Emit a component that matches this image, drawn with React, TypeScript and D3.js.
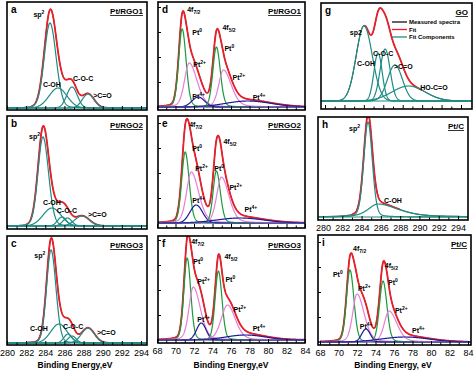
import React, { useEffect, useRef } from 'react';
import * as d3 from 'd3';

// peak = [centre eV, height a.u., hwhm low-BE side, hwhm high-BE side, lorentz fraction]
type Peak = [number, number, number, number, number];

const carbonTicks = [280, 282, 284, 286, 288, 290, 292, 294];
const platinumTicks = [68, 70, 72, 74, 76, 78, 80, 82, 84];

// C 1s: sp2, C-OH, C-O-C, >C=O
const peaksA: Peak[] = [
  [284.49, 85, 0.7, 0.75, 0.1],
  [285.33, 20, 1.1, 1.1, 0],
  [286.79, 21, 0.65, 0.65, 0],
  [288.46, 14, 0.7, 0.75, 0],
];
const peaksB: Peak[] = [
  [283.76, 89, 0.62, 0.68, 0.1],
  [284.7, 18, 1.1, 1.1, 0],
  [285.75, 9, 0.55, 0.55, 0],
  [286.3, 8, 0.55, 0.55, 0],
  [287.84, 10, 0.9, 0.9, 0],
];
const peaksC: Peak[] = [
  [284.6, 93, 0.55, 0.6, 0.1],
  [285.43, 19, 1.0, 1.0, 0],
  [286.37, 9, 0.5, 0.5, 0],
  [286.8, 7, 0.5, 0.5, 0],
  [288.46, 15, 0.8, 0.8, 0],
];
// GO: sp2, C-OH, C-O-C, >C=O, HO-C=O
const peaksG: Peak[] = [
  [284.02, 75, 0.95, 1.0, 0],
  [285.46, 48, 0.5, 0.5, 0],
  [286.19, 52, 0.6, 0.6, 0],
  [287.2, 36, 0.9, 0.9, 0],
  [288.6, 15, 2.0, 2.0, 0],
];
// Pt/C C 1s: sp2, C-OH
const peaksH: Peak[] = [
  [284.67, 95, 0.52, 0.52, 0.15],
  [285.7, 13, 1.2, 2.5, 0.5],
];

// Pt 4f: Pt0, Pt2+, Pt4+ (4f7/2) then Pt0, Pt2+, Pt4+ (4f5/2)
const peaksD: Peak[] = [
  [70.72, 78, 0.45, 0.5, 0.15],
  [71.48, 44, 0.6, 1.0, 0.25],
  [72.46, 10, 0.8, 0.8, 0],
  [74.42, 60, 0.45, 0.5, 0.15],
  [75.18, 37, 0.6, 1.0, 0.25],
  [77.8, 6, 2.8, 3.0, 0],
];
const peaksE: Peak[] = [
  [71.05, 71, 0.45, 0.5, 0.15],
  [71.7, 51, 0.6, 0.95, 0.25],
  [72.24, 18, 0.8, 0.8, 0],
  [74.42, 52, 0.42, 0.5, 0.15],
  [74.96, 46, 0.6, 0.95, 0.25],
  [77.0, 5, 3, 3, 0],
];
const peaksF: Peak[] = [
  [71.26, 82, 0.42, 0.45, 0.15],
  [71.92, 53, 0.55, 0.9, 0.25],
  [72.79, 17, 0.6, 0.6, 0],
  [74.64, 69, 0.42, 0.45, 0.15],
  [75.62, 35, 0.8, 1.0, 0.25],
  [77.58, 5, 2.5, 2.5, 0],
];
const peaksI: Peak[] = [
  [71.24, 72, 0.45, 0.5, 0.15],
  [72.0, 48, 0.55, 0.9, 0.25],
  [72.97, 13, 0.55, 0.55, 0],
  [74.81, 61, 0.45, 0.5, 0.15],
  [75.46, 31, 0.6, 1.0, 0.25],
  [77.19, 5, 3, 3, 0],
];

const RED = '#e8202a';
const TEAL = '#1f8c84';
const PT_COLORS = ['#1a9a3c', '#e67fd6', '#1b1b98', '#1a9a3c', '#e67fd6', '#1b1b98'];
const PT_BASE = '#3a3a9c';
const FONT = '"Liberation Sans", Arial, sans-serif';

type Label = { t: string; e: number; v: number; sup?: string; sub?: string; end?: boolean };

const ptLabels = (p: number[][]): Label[] => [
  { t: '4f', sub: '7/2', e: p[0][0], v: p[0][1] },
  { t: 'Pt', sup: '0', e: p[1][0], v: p[1][1] },
  { t: 'Pt', sup: '2+', e: p[2][0], v: p[2][1] },
  { t: 'Pt', sup: '4+', e: p[3][0], v: p[3][1] },
  { t: '4f', sub: '5/2', e: p[4][0], v: p[4][1] },
  { t: 'Pt', sup: '0', e: p[5][0], v: p[5][1] },
  { t: 'Pt', sup: '2+', e: p[6][0], v: p[6][1] },
  { t: 'Pt', sup: '4+', e: p[7][0], v: p[7][1] },
];

const panels = [
  {
    key: 'a', title: 'Pt/RGO1', box: [7, 2, 147, 110], base: 108, dom: [280, 294], pix: [7, 141],
    peaks: peaksA, kind: 'C', fit: [282.5, 291.5], ticks: false,
    labels: [
      { t: 'sp', sup: '2', e: 283.9, v: 91, end: true },
      { t: 'C-OH', e: 283.76, v: 21 },
      { t: 'C-O-C', e: 286.9, v: 27 },
      { t: '>C=O', e: 289.0, v: 10 },
    ] as Label[],
  },
  {
    key: 'b', title: 'Pt/RGO2', box: [7, 116, 147, 229], base: 226, dom: [280, 294], pix: [7, 141],
    peaks: peaksB, kind: 'C', fit: [282, 291], ticks: false,
    labels: [
      { t: 'sp', sup: '2', e: 283.45, v: 87, end: true },
      { t: 'C-OH', e: 283.76, v: 21 },
      { t: 'C-O-C', e: 285.2, v: 13 },
      { t: '>C=O', e: 288.46, v: 9 },
    ] as Label[],
  },
  {
    key: 'c', title: 'Pt/RGO3', box: [7, 236, 147, 345], base: 343, dom: [280, 294], pix: [7, 141],
    peaks: peaksC, kind: 'C', fit: [282, 291], ticks: true,
    labels: [
      { t: 'sp', sup: '2', e: 284.0, v: 85, end: true },
      { t: 'C-OH', e: 282.4, v: 12 },
      { t: 'C-O-C', e: 285.85, v: 14 },
      { t: '>C=O', e: 289.4, v: 8 },
    ] as Label[],
  },
  {
    key: 'd', title: 'Pt/RGO1', box: [158, 2, 305, 110], base: 107, dom: [68, 84], pix: [157, 305],
    peaks: peaksD, kind: 'Pt', fit: [68, 84], ticks: false,
    labels: ptLabels([[71.26, 95], [71.81, 72], [71.92, 40], [71.81, 8], [75.07, 77], [75.29, 56], [76.16, 27], [78.34, 7]]),
  },
  {
    key: 'e', title: 'Pt/RGO2', box: [158, 116, 305, 228], base: 223, dom: [68, 84], pix: [157, 305],
    peaks: peaksE, kind: 'Pt', fit: [68, 84], ticks: false,
    labels: ptLabels([[71.48, 96], [71.81, 72], [72.13, 52], [71.81, 20], [75.18, 79], [74.2, 52], [75.83, 33], [77.47, 11]]),
  },
  {
    key: 'f', title: 'Pt/RGO3', box: [158, 236, 305, 343], base: 340, dom: [68, 84], pix: [157, 305],
    peaks: peaksF, kind: 'Pt', fit: [68, 84], ticks: true,
    labels: ptLabels([[71.7, 96], [71.92, 76], [72.35, 56], [72.35, 18], [75.29, 81], [75.4, 58], [76.27, 28], [78.34, 9]]),
  },
  {
    key: 'g', title: 'GO', box: [321, 3, 472, 109], base: 101, dom: [280, 294], pix: [325, 461],
    peaks: peaksG, kind: 'C', fit: [284.1, 290], ticks: false,
    labels: [
      { t: 'sp2', e: 283.8, v: 66, end: true },
      { t: 'C-OH', e: 283.3, v: 35 },
      { t: 'C-O-C', e: 284.95, v: 45 },
      { t: '>C=O', e: 287.1, v: 32 },
      { t: 'HO-C=O', e: 289.8, v: 11 },
    ] as Label[],
  },
  {
    key: 'h', title: 'Pt/C', box: [318, 117, 468, 220], base: 217, dom: [280, 294], pix: [323, 458],
    peaks: peaksH, kind: 'C', fit: [283, 288], ticks: true,
    labels: [
      { t: 'sp', sup: '2', e: 283.84, v: 86, end: true },
      { t: 'C-OH', e: 286.33, v: 14 },
    ] as Label[],
  },
  {
    key: 'i', title: 'Pt/C', box: [318, 235, 471, 345], base: 342, dom: [68, 84], pix: [320, 468],
    peaks: peaksI, kind: 'Pt', fit: [68, 84], ticks: true,
    labels: ptLabels([[71.57, 91], [69.4, 65], [72.1, 51], [72.3, 13], [75.0, 74], [75.35, 57], [76.1, 29], [77.95, 9]]),
  },
];

const shape = (pk: Peak, e: number) => {
  const [c, h, wl, wr, eta] = pk;
  const d = (e - c) / (e < c ? wl : wr);
  return h * ((1 - eta) * Math.exp(-Math.LN2 * d * d) + eta / (1 + d * d));
};

const Chart = () => {
  const ref = useRef<SVGSVGElement>(null);

  useEffect(() => {
    const svg = d3.select(ref.current);
    svg.selectAll('*').remove();
    svg.style('font-family', FONT);

    panels.forEach((p) => {
      const [x0, y0, x1, y1] = p.box;
      const x = d3.scaleLinear().domain(p.dom).range(p.pix);
      const y = d3.scaleLinear().domain([0, 100]).range([p.base, p.base - 100]);
      const g = svg.append('g');

      g.append('clipPath').attr('id', 'clip-' + p.key)
        .append('rect').attr('x', x0).attr('y', y0).attr('width', x1 - x0).attr('height', y1 - y0);
      const plot = g.append('g').attr('clip-path', `url(#clip-${p.key})`);

      const grid = d3.range(x.invert(x0), x.invert(x1), 0.02);
      const total = (e: number) => d3.sum(p.peaks, (pk) => shape(pk, e));
      const line = d3.line<number>().x((e) => x(e)).y((e) => y(total(e)));

      plot.append('path').attr('d', line(grid)).attr('fill', 'none').attr('stroke', '#111').attr('stroke-width', 1);
      plot.append('path')
        .attr('d', line(grid.filter((e) => e >= p.fit[0] && e <= p.fit[1])))
        .attr('fill', 'none').attr('stroke', RED).attr('stroke-width', 1.8);

      p.peaks.forEach((pk, i) => {
        const col = p.kind === 'C' ? TEAL : PT_COLORS[i];
        const comp = d3.line<number>().x((e) => x(e)).y((e) => y(shape(pk, e)));
        plot.append('path').attr('d', comp(grid)).attr('fill', 'none').attr('stroke', col).attr('stroke-width', 1.2);
      });

      plot.append('line')
        .attr('x1', x0).attr('x2', x1).attr('y1', y(0)).attr('y2', y(0))
        .attr('stroke', p.kind === 'C' ? TEAL : PT_BASE).attr('stroke-width', 1.2);

      // bottom ticks, inward
      const labelled = p.kind === 'C' ? carbonTicks : platinumTicks;
      const axis = d3.axisBottom(x)
        .tickValues(d3.range(p.dom[0], p.dom[1] + 1, 1))
        .tickSize(-3)
        .tickPadding(5)
        .tickFormat((v) => (p.ticks && labelled.includes(+v) ? String(v) : ''));
      const ax = g.append('g').attr('transform', `translate(0,${y1})`).call(axis);
      ax.select('.domain').remove();
      ax.selectAll('.tick line')
        .attr('y2', (v: any) => (labelled.includes(+v) ? -4 : -2.5))
        .attr('stroke-width', 1);
      ax.selectAll('.tick text').attr('font-size', 9).attr('font-family', FONT).attr('fill', '#000');

      if (p.kind === 'Pt') {
        const left = d3.axisLeft(y).tickValues([25, 50, 75, 100]).tickSize(-3).tickFormat(() => '');
        const la = g.append('g').attr('transform', `translate(${x0},0)`).call(left);
        la.select('.domain').remove();
      }

      g.append('rect')
        .attr('x', x0).attr('y', y0).attr('width', x1 - x0).attr('height', y1 - y0)
        .attr('fill', 'none').attr('stroke', '#000').attr('stroke-width', 1.6);

      g.append('text').attr('x', x0 + 4).attr('y', y0 + 11)
        .attr('font-size', 10).attr('font-weight', 'bold').text(p.key);
      g.append('text').attr('x', x1 - 4).attr('y', y0 + 12)
        .attr('font-size', 8).attr('font-weight', 'bold').attr('text-anchor', 'end')
        .attr('text-decoration', 'underline').text(p.title);

      p.labels.forEach((l) => {
        const t = g.append('text')
          .attr('x', x(l.e)).attr('y', y(l.v))
          .attr('font-size', 7).attr('font-weight', 'bold')
          .attr('text-anchor', l.end ? 'end' : 'start');
        t.append('tspan').text(l.t);
        if (l.sup) t.append('tspan').attr('font-size', 5).attr('dy', -3.5).text(l.sup);
        if (l.sub) t.append('tspan').attr('font-size', 5).attr('dy', 2).text(l.sub);
      });

      if (p.key === 'g') {
        const legend = [['Measured spectra', '#111'], ['Fit', RED], ['Fit Components', TEAL]];
        legend.forEach(([name, col], i) => {
          const ly = y0 + 19 + i * 7.5;
          g.append('line').attr('x1', x1 - 80).attr('x2', x1 - 65).attr('y1', ly).attr('y2', ly)
            .attr('stroke', col).attr('stroke-width', 1.3);
          g.append('text').attr('x', x1 - 63).attr('y', ly + 2).attr('font-size', 6).attr('font-weight', 'bold').text(name);
        });
      }
    });

    const xl = [[75, 'Binding Energy,eV'], [231, 'Binding Energy,eV'], [393, 'Binding Energy, eV']];
    xl.forEach(([cx, s]) => {
      svg.append('text').attr('x', cx).attr('y', 368).attr('text-anchor', 'middle')
        .attr('font-size', 8.5).attr('font-weight', 'bold').text(s as string);
    });
  }, []);

  return <svg ref={ref} width={474} height={372} style={{ position: 'absolute', left: 0, top: 0, background: '#fff' }} />;
};

export default function App() {
  return <Chart />;
}
